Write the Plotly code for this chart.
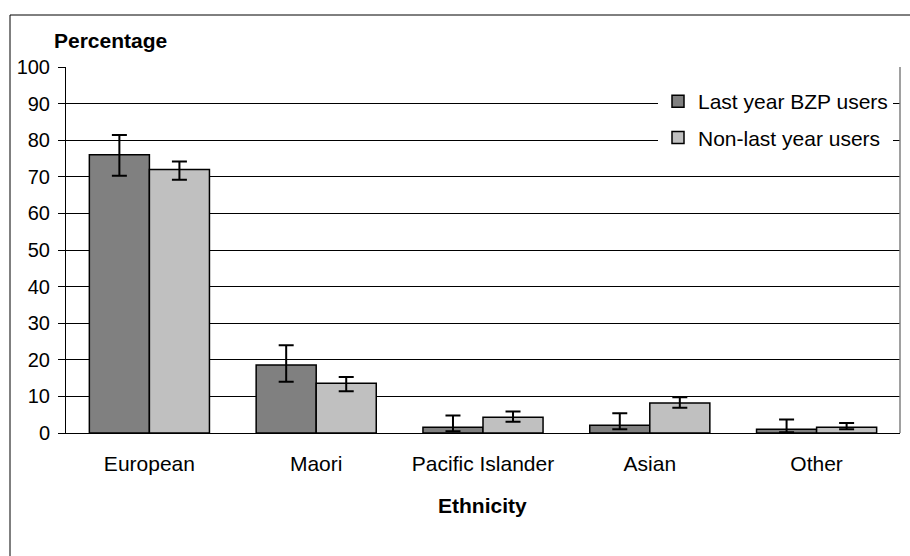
import plotly.graph_objects as go

# data
categories = ['European', 'Maori', 'Pacific Islander', 'Asian', 'Other']

bzp_users = [76.0, 18.6, 1.6, 2.1, 1.0]
bzp_err_plus = [5.4, 5.4, 3.2, 3.3, 2.7]
bzp_err_minus = [5.7, 4.6, 1.1, 1.1, 0.8]

non_users = [72.0, 13.6, 4.3, 8.2, 1.6]
non_err_plus = [2.2, 1.7, 1.6, 1.55, 1.1]
non_err_minus = [2.8, 2.2, 1.2, 1.3, 0.6]

y_ticks = list(range(0, 101, 10))

W, H = 910, 556
L, R, T, B = 66, 10, 67, 123
pw = W - L - R
ph = H - T - B


def px(x):
    return (x - L) / pw


def py(y):
    return (H - B - y) / ph


FONT = 'Liberation Sans, Arial, sans-serif'


def bar(name, vals, plus, minus, color):
    return go.Bar(
        x=categories,
        y=vals,
        name=name,
        legendgroup=name,
        marker=dict(color=color, line=dict(color='black', width=1.5)),
        error_y=dict(type='data', symmetric=False, array=plus, arrayminus=minus,
                     color='black', thickness=2, width=7.5),
    )


data = [
    bar('Last year BZP users', bzp_users, bzp_err_plus, bzp_err_minus, '#808080'),
    bar('Non-last year users', non_users, non_err_plus, non_err_minus, '#C0C0C0'),
]

layout = go.Layout(
    width=W,
    height=H,
    margin=dict(l=L, r=R, t=T, b=B, pad=0),
    paper_bgcolor='white',
    plot_bgcolor='white',
    font=dict(family=FONT, size=20, color='black'),
    barmode='group',
    bargap=0.28,
    bargroupgap=0,
    showlegend=True,
    legend=dict(
        x=px(658), y=py(81), xanchor='left', yanchor='top',
        bgcolor='white', borderwidth=0,
        font=dict(size=21),
        traceorder='grouped',
        tracegroupgap=6,
        itemwidth=30,
    ),
    xaxis=dict(
        range=[-0.5, 4.5],
        showline=True, linecolor='black', linewidth=1,
        ticks='', showgrid=False, zeroline=False,
        ticklabelstandoff=12,
        tickfont=dict(size=21),
    ),
    yaxis=dict(
        range=[0, 100],
        tickvals=y_ticks,
        showline=True, linecolor='black', linewidth=1,
        ticks='outside', ticklen=7, tickcolor='black', tickwidth=1,
        showgrid=True, gridcolor='black', gridwidth=1,
        zeroline=False,
        ticklabelstandoff=4,
    ),
    shapes=[
        # right edge of plot area
        dict(type='line', xref='paper', yref='paper', x0=1, x1=1, y0=0, y1=1,
             line=dict(color='#808080', width=1.5)),
        # chart border (runs off the right and bottom of the picture)
        dict(type='rect', xref='paper', yref='paper',
             x0=px(10), x1=px(914), y0=py(15), y1=py(560),
             line=dict(color='black', width=1)),
    ],
    annotations=[
        dict(text='<b>Percentage</b>', xref='paper', yref='paper',
             x=px(110), y=py(41), xanchor='center', yanchor='middle',
             showarrow=False, font=dict(size=21)),
        dict(text='<b>Ethnicity</b>', xref='paper', yref='paper',
             x=px(482), y=py(506), xanchor='center', yanchor='middle',
             showarrow=False, font=dict(size=21)),
    ],
)

fig = go.Figure(data=data, layout=layout)
fig.write_html('out.html', config={'displayModeBar': False},
               post_script="document.body.style.margin='0';")
